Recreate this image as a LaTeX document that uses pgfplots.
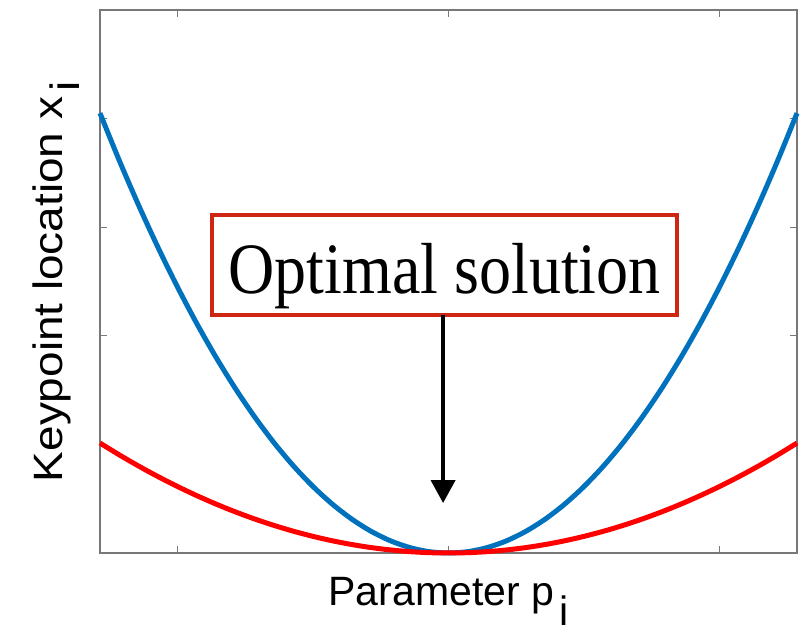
\documentclass[border=0pt]{standalone}
\usepackage{pgfplots}
\pgfplotsset{compat=1.18}
\usepackage{pgfplotstable}
\usepackage{fontspec}
\setmainfont{Liberation Sans}
\newfontfamily\seriffont{Liberation Serif}
\usetikzlibrary{arrows.meta}
\definecolor{mblue}{RGB}{0,114,189}
\definecolor{boxred}{RGB}{205,38,18}
\definecolor{axgray}{RGB}{120,120,120}
\pgfplotstableread{
x b r
-4.5 4.05 1.0125
-4.25 3.6125 0.903125
-4.0 3.2 0.8
-3.75 2.8125 0.703125
-3.5 2.45 0.6125
-3.25 2.1125 0.528125
-3.0 1.8 0.45
-2.75 1.5125 0.378125
-2.5 1.25 0.3125
-2.25 1.0125 0.253125
-2.0 0.8 0.2
-1.75 0.6125 0.153125
-1.5 0.45 0.1125
-1.25 0.3125 0.078125
-1.0 0.2 0.05
-0.75 0.1125 0.028125
-0.5 0.05 0.0125
-0.25 0.0125 0.003125
0 0 0
0.25 0.0125 0.003125
0.5 0.05 0.0125
0.75 0.1125 0.028125
1.0 0.2 0.05
1.25 0.3125 0.078125
1.5 0.45 0.1125
1.75 0.6125 0.153125
2.0 0.8 0.2
2.25 1.0125 0.253125
2.5 1.25 0.3125
2.75 1.5125 0.378125
3.0 1.8 0.45
3.25 2.1125 0.528125
3.5 2.45 0.6125
3.75 2.8125 0.703125
4.0 3.2 0.8
4.25 3.6125 0.903125
4.5 4.05 1.0125
}\curves
\begin{document}
\begin{tikzpicture}
\begin{axis}[
  name=ax,
  scale only axis,
  width=348.5pt, height=271.5pt,
  xmin=-4.5, xmax=4.5, ymin=0, ymax=5,
  xtick={-3.5,0,3.5}, ytick={0,1,2,3,4,5},
  xticklabels={}, yticklabels={},
  tick align=inside,
  major tick length=3.5pt,
  axis line style={draw=axgray, line width=0.6pt},
  every tick/.style={draw=axgray, line width=0.6pt},
  clip=false,
]
\addplot[mblue, line width=2.5pt, smooth] table[x=x, y=b] {\curves};
\addplot[red, line width=2.5pt, smooth] table[x=x, y=r] {\curves};
\draw[boxred, line width=2pt, fill=white] (axis cs:-3.05,3.11) rectangle (axis cs:2.95,2.19);
\node[anchor=base, font=\seriffont\fontsize{32}{32}\selectfont, inner sep=0pt] at (axis cs:-0.05,2.385) {\scalebox{1}[1.13]{Optimal solution}};
\draw[black, line width=2pt, -{Triangle[width=12pt,length=11.5pt]}] (axis cs:-0.07,2.19) -- (axis cs:-0.07,0.46);
\end{axis}
\node[anchor=base, font=\fontsize{20.5}{20.5}\selectfont, inner sep=0pt] at ([yshift=-26pt]ax.south) {Parameter p\hspace{2.5pt}\raisebox{-10pt}{i}};
\node[anchor=base, rotate=90, font=\fontsize{20.5}{20.5}\selectfont, inner sep=0pt] at ([xshift=-19pt]ax.west) {\scalebox{1.12}[1]{Keypoint location x\hspace{2.5pt}\raisebox{-9pt}{i}}};
\path ([xshift=-50pt,yshift=-39pt]ax.south west) rectangle ([xshift=5pt,yshift=5pt]ax.north east);
\end{tikzpicture}
\end{document}
